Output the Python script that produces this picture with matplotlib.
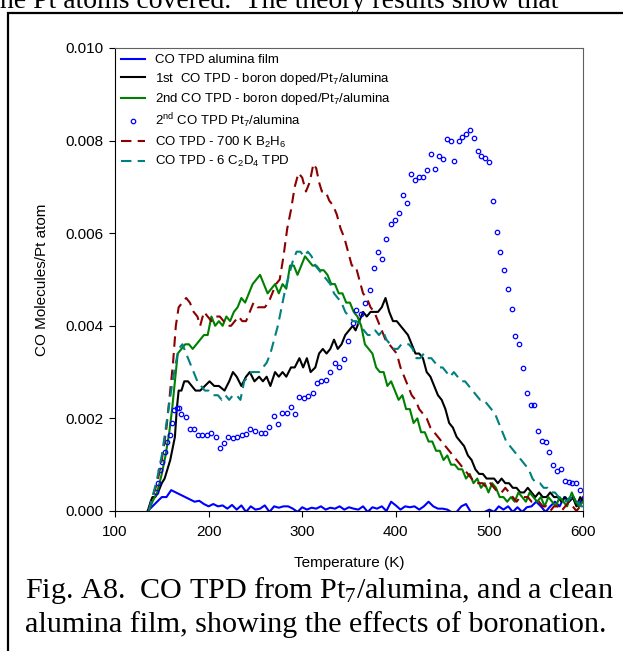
import matplotlib
matplotlib.use("Agg")
import matplotlib.pyplot as plt
from matplotlib.patches import Rectangle

plt.rcParams['font.family'] = ['Liberation Sans', 'DejaVu Sans']
plt.rcParams['mathtext.default'] = 'regular'

# CO TPD alumina film (blue line)
film_t = list(range(135, 601, 5))
film_v = [0.0, 0.0001, 0.0002, 0.0003, 0.0003, 0.00045, 0.0004, 0.00035, 0.0003, 0.00025,
          0.0002, 0.00022, 0.00015, 0.0001, 0.00015, 0.0001, 0.00012, 0.00005, 0.00013, 0.00003,
          0.00012, -0.00002, 0.0001, 0.00003, 0.00005, 0.00012, -0.00002, 0.0001, 0.00007, 0.0001,
          0.0001, 0.00005, -0.00002, 0.00008, 0.00003, 0.00007, 0.00005, 0.0001, 0.00003, 0.00007,
          0.00005, 0.0001, 0.00003, 0.00008, 0.00005, 0.00003, 0.0001, -0.00002, 0.00008, 0.00005,
          0.0001, 0.0, 0.0002, 0.00012, 0.00003, 0.0001, 0.00008, 0.0001, 0.00003, 0.0001,
          0.0002, 0.0001, 0.00005, 0.00005, 0.00003, -0.00003, -0.00002, 0.0001, 0.00015, -0.00002,
          -0.00004, -0.00003, -0.00002, 0.00003, -0.00002, 0.0001, 0.00003, 0.0001, -0.00002, 0.00008,
          -0.00002, 0.00008, 0.0001, 0.0002, 0.0001, -0.00002, 0.0001, 0.0002, 0.0001, 0.0003,
          0.0002, 0.0003, 0.0001, 0.0003]

# 1st CO TPD - boron doped (black)
first_t = [135, 138, 140, 143, 146, 150, 153, 156, 159, 162, 164, 166, 168, 171, 174, 178, 182, 186,
           191, 196, 201, 206, 211, 217, 222, 226, 230, 235, 240, 244, 249, 254, 258, 262, 266, 271,
           275, 279, 283, 288, 292, 297, 301, 305, 309, 314, 318, 322, 326, 330, 334, 338, 342, 346,
           350, 354, 357, 361, 365, 369, 373, 377, 381, 385, 389, 393, 397, 401, 405, 409, 413, 417,
           421, 425, 429, 433, 437, 441, 445, 449, 453, 457, 461, 465, 469, 473, 477, 481, 485, 489,
           493, 497, 501, 505, 509, 513, 517, 521, 525, 529, 533, 537, 541, 545, 549, 553, 557, 561,
           565, 569, 573, 577, 581, 585, 589, 593, 597, 600]
first_v = [0.0, 0.0002, 0.0003, 0.0003, 0.0004, 0.0006, 0.0007, 0.0009, 0.0011, 0.0014, 0.0016, 0.0022,
           0.0026, 0.0026, 0.0028, 0.0028, 0.0027, 0.0026, 0.0026, 0.0027, 0.0028, 0.0027, 0.0027, 0.0026,
           0.0028, 0.0030, 0.0029, 0.0027, 0.0029, 0.0030, 0.0028, 0.0029, 0.0028, 0.0029, 0.0027, 0.0030,
           0.0029, 0.0030, 0.0029, 0.0031, 0.0031, 0.0033, 0.0031, 0.0033, 0.0030, 0.0031, 0.0034, 0.0035,
           0.0034, 0.0035, 0.0037, 0.0035, 0.0036, 0.0038, 0.0039, 0.0040, 0.0039, 0.0041, 0.0043, 0.0042,
           0.0043, 0.0043, 0.0043, 0.0044, 0.0046, 0.0043, 0.0041, 0.0041, 0.0040, 0.0039, 0.0038, 0.0036,
           0.0034, 0.0034, 0.0033, 0.0030, 0.0029, 0.0027, 0.0025, 0.0024, 0.0022, 0.0019, 0.0018, 0.0016,
           0.0015, 0.0014, 0.0012, 0.0011, 0.0009, 0.0008, 0.0008, 0.0007, 0.0007, 0.0007, 0.0006, 0.0007,
           0.0006, 0.0006, 0.0005, 0.0005, 0.0004, 0.0004, 0.0005, 0.0004, 0.0003, 0.0004, 0.0003, 0.0003,
           0.0004, 0.0003, 0.0003, 0.0002, 0.0003, 0.0002, 0.0003, 0.0001, 0.0003, 0.0002]

# 2nd CO TPD - boron doped (green)
second_t = [136, 140, 145, 150, 154, 158, 161, 164, 167, 171, 175, 179, 183, 187, 191, 195, 199, 203,
            207, 211, 215, 219, 223, 227, 231, 235, 239, 243, 247, 251, 255, 259, 263, 267, 271, 275,
            279, 283, 287, 291, 295, 299, 303, 307, 311, 315, 319, 323, 327, 331, 335, 339, 343, 347,
            351, 355, 359, 363, 367, 371, 375, 379, 383, 387, 391, 395, 399, 403, 407, 411, 415, 419,
            423, 427, 431, 435, 439, 443, 447, 451, 455, 459, 463, 467, 471, 475, 479, 483, 487, 491,
            495, 499, 503, 507, 511, 515, 519, 523, 527, 531, 535, 539, 543, 547, 551, 555, 559, 563,
            567, 571, 575, 579, 583, 588, 592, 596, 600]
second_v = [0.0, 0.0002, 0.0004, 0.0008, 0.0012, 0.0017, 0.0022, 0.0028, 0.0034, 0.0035, 0.0036, 0.0036,
            0.0035, 0.0036, 0.0037, 0.0038, 0.0038, 0.0042, 0.0040, 0.0041, 0.0040, 0.0042, 0.0041, 0.0043,
            0.0044, 0.0046, 0.0045, 0.0047, 0.0049, 0.0050, 0.0051, 0.0049, 0.0047, 0.0048, 0.0049, 0.0047,
            0.0049, 0.0048, 0.0053, 0.0053, 0.0051, 0.0053, 0.0055, 0.0054, 0.0053, 0.0053, 0.0052, 0.0052,
            0.0051, 0.0049, 0.0049, 0.0047, 0.0047, 0.0045, 0.0045, 0.0043, 0.0042, 0.0040, 0.0036, 0.0035,
            0.0034, 0.0031, 0.0030, 0.0030, 0.0027, 0.0028, 0.0026, 0.0024, 0.0025, 0.0022, 0.0022, 0.0019,
            0.0020, 0.0017, 0.0017, 0.0015, 0.0015, 0.0013, 0.0013, 0.0011, 0.0012, 0.0010, 0.0010, 0.0009,
            0.0009, 0.0007, 0.0008, 0.0006, 0.0007, 0.0005, 0.0006, 0.0004, 0.0006, 0.0005, 0.0003, 0.0003,
            0.0002, 0.0003, 0.0002, 0.0004, 0.0003, 0.0002, 0.0004, 0.0003, 0.0002, 0.0003, 0.0001, 0.0003,
            0.0002, 0.0001, 0.0003, 0.0002, 0.0001, 0.0004, 0.0002, 0.0001, 0.0002]

# 2nd CO TPD Pt7/alumina (open blue circles)
pt7_t = [144, 146, 148, 150, 153, 156, 159, 161, 163, 166, 168, 171, 176, 180, 184, 189, 193, 198,
         203, 208, 212, 216, 221, 226, 230, 236, 240, 244, 250, 256, 260, 265, 270, 274, 278, 284,
         288, 292, 297, 302, 306, 311, 316, 320, 325, 330, 335, 339, 345, 349, 354, 358, 363, 367,
         372, 377, 381, 385, 390, 395, 399, 403, 408, 412, 416, 421, 425, 429, 433, 438, 442, 446,
         450, 455, 459, 462, 467, 471, 475, 479, 484, 488, 491, 495, 500, 504, 508, 511, 516, 520,
         524, 527, 532, 536, 540, 544, 548, 552, 556, 560, 564, 568, 572, 576, 581, 585, 588, 593, 597]
pt7_v = [0.0004, 0.0006, 0.00089, 0.00106, 0.00127, 0.0015, 0.00164, 0.0019, 0.00218, 0.00222, 0.00222,
         0.0021, 0.00203, 0.00177, 0.00177, 0.00164, 0.00164, 0.00164, 0.00168, 0.0016, 0.00136, 0.00147,
         0.0016, 0.00158, 0.0016, 0.00164, 0.00166, 0.00177, 0.00173, 0.00168, 0.00168, 0.00181, 0.00205,
         0.00188, 0.00212, 0.00212, 0.00225, 0.0021, 0.00246, 0.00244, 0.00248, 0.00255, 0.00276, 0.00281,
         0.00283, 0.0030, 0.0032, 0.0031, 0.00328, 0.00367, 0.00406, 0.00434, 0.00425, 0.0045, 0.00477,
         0.00525, 0.0056, 0.00544, 0.00588, 0.0062, 0.00629, 0.00644, 0.00683, 0.00665, 0.00728, 0.00715,
         0.00721, 0.00721, 0.00737, 0.00771, 0.00739, 0.00767, 0.0076, 0.00803, 0.008, 0.00756, 0.008,
         0.00808, 0.00814, 0.00823, 0.00806, 0.00778, 0.00767, 0.00762, 0.00754, 0.0067, 0.00603, 0.0056,
         0.0052, 0.0048, 0.00436, 0.00378, 0.0036, 0.00309, 0.00255, 0.00229, 0.00229, 0.00173, 0.00151,
         0.00149, 0.00127, 0.00099, 0.00086, 0.00091, 0.00065, 0.00063, 0.0006, 0.0006, 0.00045]

# CO TPD - 700 K B2H6 (dark red dashed)
b2h6_t = [136, 140, 145, 150, 155, 159, 162, 165, 168, 172, 176, 180, 184, 188, 191, 195, 199, 203,
          207, 212, 216, 220, 224, 228, 232, 236, 240, 244, 248, 252, 256, 260, 264, 268, 272, 276,
          280, 284, 288, 292, 296, 300, 304, 308, 312, 315, 318, 321, 325, 329, 333, 337, 341, 345,
          349, 353, 357, 361, 365, 369, 373, 377, 381, 385, 389, 393, 397, 401, 405, 409, 413, 417,
          421, 425, 429, 433, 437, 441, 445, 449, 453, 457, 461, 465, 469, 473, 477, 481, 485, 489,
          493, 497, 501, 505, 509, 513, 517, 521, 525, 529, 533, 537, 541, 545, 549, 553, 557, 561,
          565, 569, 573, 577, 581, 585, 589, 593, 597, 600]
b2h6_v = [0.0, 0.0003, 0.0006, 0.0011, 0.0018, 0.0026, 0.0032, 0.0040, 0.0044, 0.0045, 0.0046, 0.0045,
          0.0043, 0.0042, 0.0040, 0.0043, 0.0042, 0.0041, 0.0042, 0.0042, 0.0041, 0.0040, 0.0040, 0.0041,
          0.0042, 0.0041, 0.0041, 0.0043, 0.0045, 0.0044, 0.0044, 0.0044, 0.0045, 0.0047, 0.0049, 0.0050,
          0.0055, 0.0061, 0.0065, 0.0070, 0.0073, 0.0072, 0.0069, 0.0071, 0.0075, 0.0074, 0.0071, 0.0069,
          0.0069, 0.0067, 0.0066, 0.0064, 0.0061, 0.0059, 0.0056, 0.0053, 0.0053, 0.0050, 0.0047, 0.0046,
          0.0044, 0.0043, 0.0041, 0.0039, 0.0037, 0.0036, 0.0035, 0.0034, 0.0031, 0.0029, 0.0027, 0.0025,
          0.0024, 0.0022, 0.0021, 0.0020, 0.0018, 0.0017, 0.0016, 0.0015, 0.0014, 0.0013, 0.0012, 0.0011,
          0.0010, 0.0009, 0.0008, 0.0007, 0.0006, 0.0006, 0.0006, 0.0005, 0.0006, 0.0005, 0.0004, 0.0004,
          0.0005, 0.0004, 0.0003, 0.0002, 0.0003, 0.0003, 0.0003, 0.0002, 0.0002, 0.0002, 0.0001, 0.0001,
          0.0000, 0.0001, 0.0001, 0.0000, 0.0001, 0.0002, 0.0001, 0.0000, 0.0001, 0.0001]

# CO TPD - 6 C2D4 TPD (teal dashed)
c2d4_t = [136, 140, 145, 150, 155, 160, 164, 168, 172, 176, 180, 184, 188, 192, 196, 200, 205, 210,
          214, 218, 222, 226, 230, 234, 238, 242, 246, 250, 254, 258, 262, 266, 270, 274, 278, 282,
          286, 290, 294, 298, 302, 306, 310, 314, 318, 322, 326, 330, 334, 338, 342, 346, 350, 354,
          358, 362, 366, 370, 374, 378, 382, 386, 390, 394, 398, 402, 406, 410, 414, 418, 422, 426,
          430, 434, 438, 442, 446, 450, 454, 458, 462, 466, 470, 474, 478, 482, 486, 490, 494, 498,
          502, 506, 510, 514, 518, 522, 526, 530, 534, 538, 542, 546, 550, 554, 558, 562, 566, 570,
          574, 578, 582, 586, 590, 594, 598, 600]
c2d4_v = [0.0, 0.0003, 0.0007, 0.0012, 0.0019, 0.0026, 0.0031, 0.0035, 0.0036, 0.0034, 0.0032, 0.0030,
          0.0028, 0.0027, 0.0026, 0.0026, 0.0025, 0.0025, 0.0024, 0.0025, 0.0024, 0.0025, 0.0025, 0.0024,
          0.0028, 0.0029, 0.0030, 0.0030, 0.0030, 0.0031, 0.0032, 0.0034, 0.0037, 0.0040, 0.0044, 0.0048,
          0.0051, 0.0054, 0.0056, 0.0056, 0.0055, 0.0056, 0.0055, 0.0053, 0.0052, 0.0051, 0.0050, 0.0049,
          0.0047, 0.0046, 0.0045, 0.0043, 0.0042, 0.0041, 0.0041, 0.0040, 0.0039, 0.0038, 0.0038, 0.0039,
          0.0038, 0.0039, 0.0037, 0.0036, 0.0035, 0.0035, 0.0036, 0.0036, 0.0036, 0.0035, 0.0033, 0.0033,
          0.0034, 0.0033, 0.0033, 0.0032, 0.0031, 0.0031, 0.0030, 0.0029, 0.0030, 0.0029, 0.0028, 0.0028,
          0.0027, 0.0026, 0.0025, 0.0024, 0.0024, 0.0023, 0.0022, 0.0021, 0.0019, 0.0017, 0.0015, 0.0014,
          0.0013, 0.0012, 0.0011, 0.0010, 0.0009, 0.0007, 0.0006, 0.0006, 0.0005, 0.0005, 0.0004, 0.0004,
          0.0003, 0.0003, 0.0002, 0.0003, 0.0002, 0.0002, 0.0001, 0.0001]

x_ticks = [100, 200, 300, 400, 500, 600]
y_ticks = [0.000, 0.002, 0.004, 0.006, 0.008, 0.010]

fig = plt.figure(figsize=(6.23, 6.51), dpi=100)
ax = fig.add_axes([0.1846, 0.2151, 0.7512, 0.7112])

ax.plot(film_t, film_v, color="#0000ff", lw=1.5, label="CO TPD alumina film")
ax.plot(first_t, first_v, color="black", lw=1.5, label="1st  CO TPD - boron doped/Pt$_7$/alumina")
ax.plot(second_t, second_v, color="#008000", lw=1.5, label="2nd CO TPD - boron doped/Pt$_7$/alumina")
ax.plot(pt7_t, pt7_v, ls="none", marker="o", ms=3.2, mfc="none", mec="#0000ff", mew=0.9,
        label="2$^{nd}$ CO TPD Pt$_7$/alumina")
ax.plot(b2h6_t, b2h6_v, color="#8b0000", lw=1.5, dashes=(5, 3), label="CO TPD - 700 K B$_2$H$_6$")
ax.plot(c2d4_t, c2d4_v, color="#008080", lw=1.5, dashes=(5, 3), label="CO TPD - 6 C$_2$D$_4$ TPD")

ax.set_xlim(100, 600)
ax.set_ylim(0, 0.010)
ax.set_xticks(x_ticks)
ax.set_yticks(y_ticks)
ax.set_yticklabels([f"{v:.3f}" for v in y_ticks])
ax.tick_params(direction="out", length=4, width=0.8, labelsize=11, pad=4)
ax.tick_params(axis="x", pad=6)
ax.set_xlabel("Temperature (K)", fontsize=11, labelpad=12)
ax.set_ylabel("CO Molecules/Pt atom", fontsize=11, labelpad=12)
for side in ["top", "right"]:
	ax.spines[side].set_color("#606060")

ax.legend(loc="upper left", bbox_to_anchor=(0.0, 1.0), frameon=False, fontsize=9.5,
          handlelength=1.8, handletextpad=0.75, labelspacing=0.34, borderaxespad=0.05)

# page text around the figure
fig.text(0.0, 1.0 - 8/651, "he Pt atoms covered.  The theory results show that",
         family="Liberation Serif", fontsize=20, va="baseline", ha="left")
fig.text(25/623, 1.0 - 598/651, "Fig. A8.  CO TPD from Pt$_7$/alumina, and a clean",
         family="Liberation Serif", fontsize=21.7, va="baseline", ha="left")
fig.text(25/623, 1.0 - 632/651, "alumina film, showing the effects of boronation.",
         family="Liberation Serif", fontsize=21.7, va="baseline", ha="left")

fig.patches.append(Rectangle((8/623, -0.1), 1.2, 1.1 - 12.5/651, transform=fig.transFigure,
                             fill=False, ec="black", lw=1.6, clip_on=False))

plt.savefig("out.png", dpi=100)
